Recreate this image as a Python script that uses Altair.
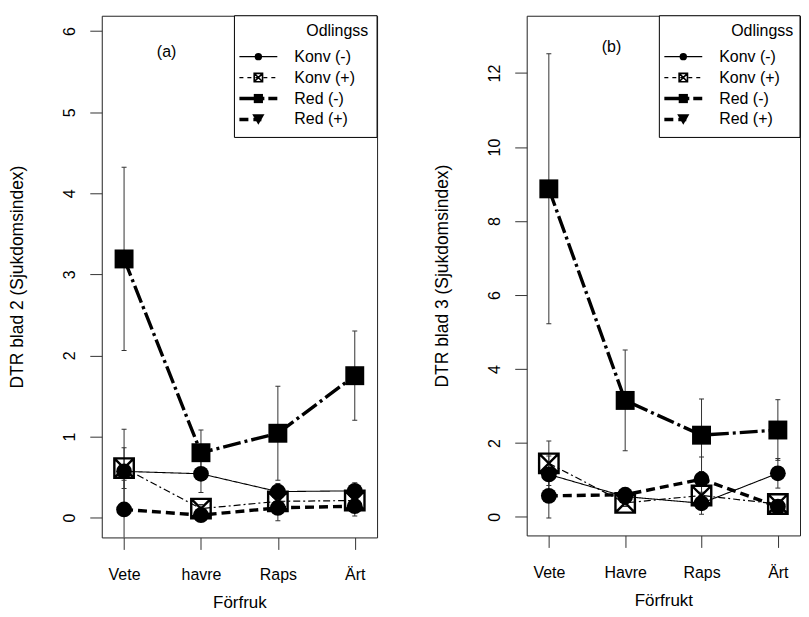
import altair as alt
import pandas as pd

# ---------------- data ----------------
cats_a = ["Vete", "havre", "Raps", "Ärt"]
cats_b = ["Vete", "Havre", "Raps", "Ärt"]
series = ["Konv (-)", "Konv (+)", "Red (-)", "Red (+)"]

# panel (a): DTR blad 2
a_konv_minus = [0.57, 0.54, 0.32, 0.33]
a_konv_plus = [0.61, 0.11, 0.20, 0.21]
a_red_minus = [3.19, 0.80, 1.04, 1.75]
a_red_plus = [0.10, 0.03, 0.12, 0.14]
a_err_konv_minus = [0.52, 0.23, 0.10, 0.10]
a_err_konv_plus = [0.25, 0.05, 0.10, 0.05]
a_err_red_minus = [1.13, 0.28, 0.58, 0.55]
a_err_red_plus = [0.36, 0.05, 0.16, 0.12]

# panel (b): DTR blad 3
b_konv_minus = [1.15, 0.55, 0.37, 1.18]
b_konv_plus = [1.45, 0.38, 0.58, 0.35]
b_red_minus = [8.87, 3.15, 2.21, 2.35]
b_red_plus = [0.57, 0.60, 1.02, 0.28]
b_err_konv_minus = [0.50, 0.12, 0.30, 0.40]
b_err_konv_plus = [0.60, 0.10, 0.30, 0.10]
b_err_red_minus = [3.65, 1.36, 0.98, 0.82]
b_err_red_plus = [0.60, 0.15, 0.60, 0.10]

FONT = "Liberation Sans"
BOXX = "M-1,-1L1,-1L1,1L-1,1Z M-1,-1L1,1 M1,-1L-1,1"

styles = {
    "Konv (-)": dict(dash=[1, 0], width=1.1, shape="circle", filled=True, size=250, lsize=55),
    "Konv (+)": dict(dash=[7, 3, 2, 3], width=1.2, shape=BOXX, filled=False, size=380, lsize=70),
    "Red (-)": dict(dash=[18, 4, 3, 4], width=3.4, shape="square", filled=True, size=360, lsize=85),
    "Red (+)": dict(dash=[9, 5], width=3.4, shape="circle", filled=True, size=250, lsize=150),
}
legend_shapes = {"Konv (-)": "circle", "Konv (+)": BOXX, "Red (-)": "square", "Red (+)": "triangle-down"}


def make_df(cats, means, errs):
    rows = []
    for s, m, e in zip(series, means, errs):
        for c, v, ee in zip(cats, m, e):
            rows.append({"cat": c, "series": s, "mean": v, "lo": v - ee, "hi": v + ee})
    return pd.DataFrame(rows)


def panel(cats, df, ylim, yvals, ytitle, xtitle, tag, tag_xy, width, height):
    xs = alt.Scale(type="point", domain=cats, padding=0.29)
    ys = alt.Scale(domain=ylim, nice=False, zero=False)
    xaxis = alt.Axis(title=xtitle, labelAngle=0, tickSize=12, labelPadding=17,
                     titlePadding=12, labelFontSize=16, titleFontSize=17)
    yaxis = alt.Axis(title=ytitle, values=yvals, format="d", tickSize=12, labelPadding=12,
                     labelAngle=270, labelAlign="center", labelBaseline="bottom",
                     labelFontSize=16, titleFontSize=17.5, minExtent=42, maxExtent=42,
                     titlePadding=33)
    X = alt.X("cat:N", scale=xs, axis=xaxis, sort=cats)
    layers = []
    # error bars
    layers.append(alt.Chart(df).mark_rule(color="#333", strokeWidth=1, clip=True).encode(
        x=X, y=alt.Y("lo:Q", scale=ys, axis=yaxis, title=ytitle), y2="hi:Q"))
    for f in ["lo", "hi"]:
        layers.append(alt.Chart(df).mark_tick(color="#333", thickness=1, size=5, clip=True, opacity=1).encode(
            x=X, y=alt.Y(f + ":Q", scale=ys, title=ytitle)))
    # series lines + markers
    for s in series:
        st = styles[s]
        sub = df[df["series"] == s]
        layers.append(alt.Chart(sub).mark_line(color="black", strokeWidth=st["width"],
                                               strokeDash=st["dash"], clip=True).encode(
            x=X, y=alt.Y("mean:Q", scale=ys, title=ytitle)))
        layers.append(alt.Chart(sub).mark_point(shape=st["shape"], filled=st["filled"], size=st["size"],
                                                color="black", opacity=1,
                                                strokeWidth=2.4 if not st["filled"] else 1).encode(
            x=X, y=alt.Y("mean:Q", scale=ys, title=ytitle)))
    # panel tag
    one = pd.DataFrame({"d": [0]})
    layers.append(alt.Chart(one).mark_text(text=tag, font=FONT, fontSize=16, color="black").encode(
        x=alt.value(tag_xy[0]), y=alt.value(tag_xy[1])))
    # legend box
    lx0 = 133
    layers.append(alt.Chart(one).mark_rect(fill="white", stroke="black", strokeWidth=1).encode(
        x=alt.value(lx0), x2=alt.value(width), y=alt.value(0), y2=alt.value(122)))
    layers.append(alt.Chart(one).mark_text(text="Odlingssystem", font=FONT, fontSize=16, align="left",
                                           baseline="middle", limit=64, ellipsis="\u200b",
                                           color="black").encode(
        x=alt.value(205), y=alt.value(15)))
    for i, s in enumerate(series):
        st = styles[s]
        yy = 41 + 21 * i
        layers.append(alt.Chart(one).mark_rule(color="black", strokeWidth=st["width"],
                                               strokeDash=st["dash"] if s != "Konv (+)" else [4, 4]).encode(
            x=alt.value(138), x2=alt.value(176 if s != "Red (+)" else 160), y=alt.value(yy)))
        shp = legend_shapes[s]
        layers.append(alt.Chart(one).mark_point(shape=shp, filled=(shp != BOXX), size=st["lsize"],
                                                color="black", opacity=1,
                                                strokeWidth=1.6 if shp == BOXX else 1).encode(
            x=alt.value(157), y=alt.value(yy)))
        layers.append(alt.Chart(one).mark_text(text=s, font=FONT, fontSize=16, align="left",
                                               baseline="middle", color="black").encode(
            x=alt.value(193), y=alt.value(yy)))
    return alt.layer(*layers).properties(width=width, height=height)


df_a = make_df(cats_a, [a_konv_minus, a_konv_plus, a_red_minus, a_red_plus],
               [a_err_konv_minus, a_err_konv_plus, a_err_red_minus, a_err_red_plus])
df_b = make_df(cats_b, [b_konv_minus, b_konv_plus, b_red_minus, b_red_plus],
               [b_err_konv_minus, b_err_konv_plus, b_err_red_minus, b_err_red_plus])

left = panel(cats_a, df_a, [-0.245, 6.19], [0, 1, 2, 3, 4, 5, 6], "DTR blad 2 (Sjukdomsindex)",
             "Förfruk", "(a)", (65, 36), 276, 523)
right = panel(cats_b, df_b, [-0.5, 13.55], [0, 2, 4, 6, 8, 10, 12], "DTR blad 3 (Sjukdomsindex)",
              "Förfrukt", "(b)", (85, 31), 274, 521)

chart = alt.hconcat(left, right, spacing=55).properties(
    padding={"left": 0, "top": 6, "right": 0, "bottom": 0}
).configure_view(stroke="#222", strokeWidth=1).configure_axis(
    grid=False, domain=False, tickColor="#333", labelColor="black", titleColor="black",
    labelFont=FONT, titleFont=FONT, titleFontWeight="normal"
).configure_text(font=FONT)

chart.save("out.html", embed_options={"renderer": "svg", "actions": False})
